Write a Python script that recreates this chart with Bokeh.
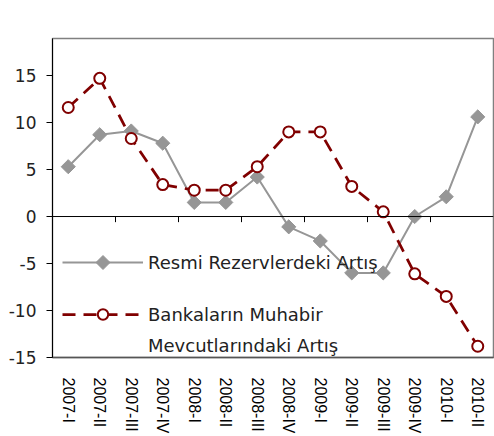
import math
from bokeh.plotting import figure
from bokeh.models import (FactorRange, Range1d, FixedTicker, Span, Legend,
                          LegendItem, ColumnDataSource, PolyAnnotation)
from bokeh.embed import file_html
from bokeh.resources import INLINE

quarters = ["2007-I", "2007-II", "2007-III", "2007-IV", "2008-I", "2008-II",
            "2008-III", "2008-IV", "2009-I", "2009-II", "2009-III", "2009-IV",
            "2010-I", "2010-II"]
resmi = [5.3, 8.7, 9.1, 7.8, 1.5, 1.5, 4.2, -1.1, -2.6, -6.0, -6.0, 0.0, 2.1, 10.6]
banka = [11.6, 14.7, 8.3, 3.4, 2.8, 2.8, 5.3, 9.0, 9.0, 3.2, 0.5, -6.1, -8.5, -13.8]
y_ticks = [-15, -10, -5, 0, 5, 10, 15]
y_tick_labels = ["-15", "-10", "-5", "0", "5", "10", "15"]
label_resmi = "Resmi Rezervlerdeki Artış"
label_banka = ["Bankaların Muhabir", "Mevcutlarındaki Artış"]

GRAY = "#969696"
RED = "#800000"
FONT = "DejaVu Sans"

p = figure(width=494, height=436,
           x_range=FactorRange(*quarters, range_padding=0),
           y_range=Range1d(-15, 18.94),
           output_backend="svg", toolbar_location=None,
           min_border_left=52, min_border_right=1,
           min_border_top=38, min_border_bottom=79)
p.xgrid.visible = False
p.ygrid.visible = False
p.outline_line_color = "#808080"
p.outline_line_width = 1.5

p.xaxis.major_label_orientation = "vertical"
p.xaxis.major_tick_line_color = None
p.xaxis.major_tick_out = 0
p.xaxis.major_tick_in = 0
p.xaxis.axis_line_color = "#555555"
p.xaxis.axis_line_width = 1.5
p.xaxis.major_label_standoff = 20
p.xaxis.major_label_text_font = "Liberation Sans"
p.xaxis.major_label_text_font_size = "16px"
p.xaxis.major_label_text_color = "#000000"

p.yaxis.ticker = FixedTicker(ticks=y_ticks)
p.yaxis.major_label_overrides = dict(zip(y_ticks, y_tick_labels))
p.yaxis.major_tick_out = 6
p.yaxis.major_tick_in = 0
p.yaxis.minor_tick_line_color = None
p.yaxis.axis_line_color = "black"
p.yaxis.major_tick_line_color = "black"
p.yaxis.major_label_standoff = 10
p.yaxis.major_label_text_font = FONT
p.yaxis.major_label_text_font_size = "17px"
p.yaxis.major_label_text_color = "#222222"

# category axis crossing at zero
p.add_layout(Span(location=0, dimension="width", line_color="black", line_width=1))
bnd = [(q, -0.5) for q in quarters[2::2]]
bsrc = ColumnDataSource(dict(x=bnd, y0=[0] * len(bnd), y1=[-0.6] * len(bnd)))
p.segment(x0="x", y0="y0", x1="x", y1="y1", source=bsrc, line_color="black", line_width=1)

gl = p.line(quarters, resmi, line_color=GRAY, line_width=2)
gs = p.scatter(quarters, resmi, marker="square", angle=math.pi / 4, size=10,
               fill_color=GRAY, line_color=GRAY)
rl = p.line(quarters, banka, line_color=RED, line_width=2.75, line_dash="13 8")
rs = p.scatter(quarters, banka, marker="circle", size=11, fill_color="white",
               line_color=RED, line_width=2)
dummy = p.line(x=[], y=[], line_alpha=0)

common = dict(glyph_width=81, glyph_height=26, label_height=26, label_standoff=5,
              padding=0, margin=0, border_line_alpha=0, background_fill_alpha=0,
              label_text_font=FONT, label_text_font_size="18px",
              label_text_color="#222222")
leg1 = Legend(items=[LegendItem(label=label_resmi, renderers=[gl])],
              location=(10, 82), **common)
leg2 = Legend(items=[LegendItem(label=label_banka[0], renderers=[rl, rs]),
                     LegendItem(label=label_banka[1], renderers=[dummy])],
              location=(10, -1), spacing=5, **common)
p.add_layout(leg1, "center")
p.add_layout(leg2, "center")

# diamond symbol of the first legend entry (frame-relative screen units)
cx, cy, r = 10 + 81 / 2, 82 + 13, 7
p.add_layout(PolyAnnotation(xs=[cx, cx + r, cx, cx - r], ys=[cy + r, cy, cy - r, cy],
                            xs_units="screen", ys_units="screen",
                            fill_color=GRAY, fill_alpha=1, line_color=GRAY,
                            line_alpha=1, line_width=1))

open("out.html", "w").write(file_html(p, INLINE))
